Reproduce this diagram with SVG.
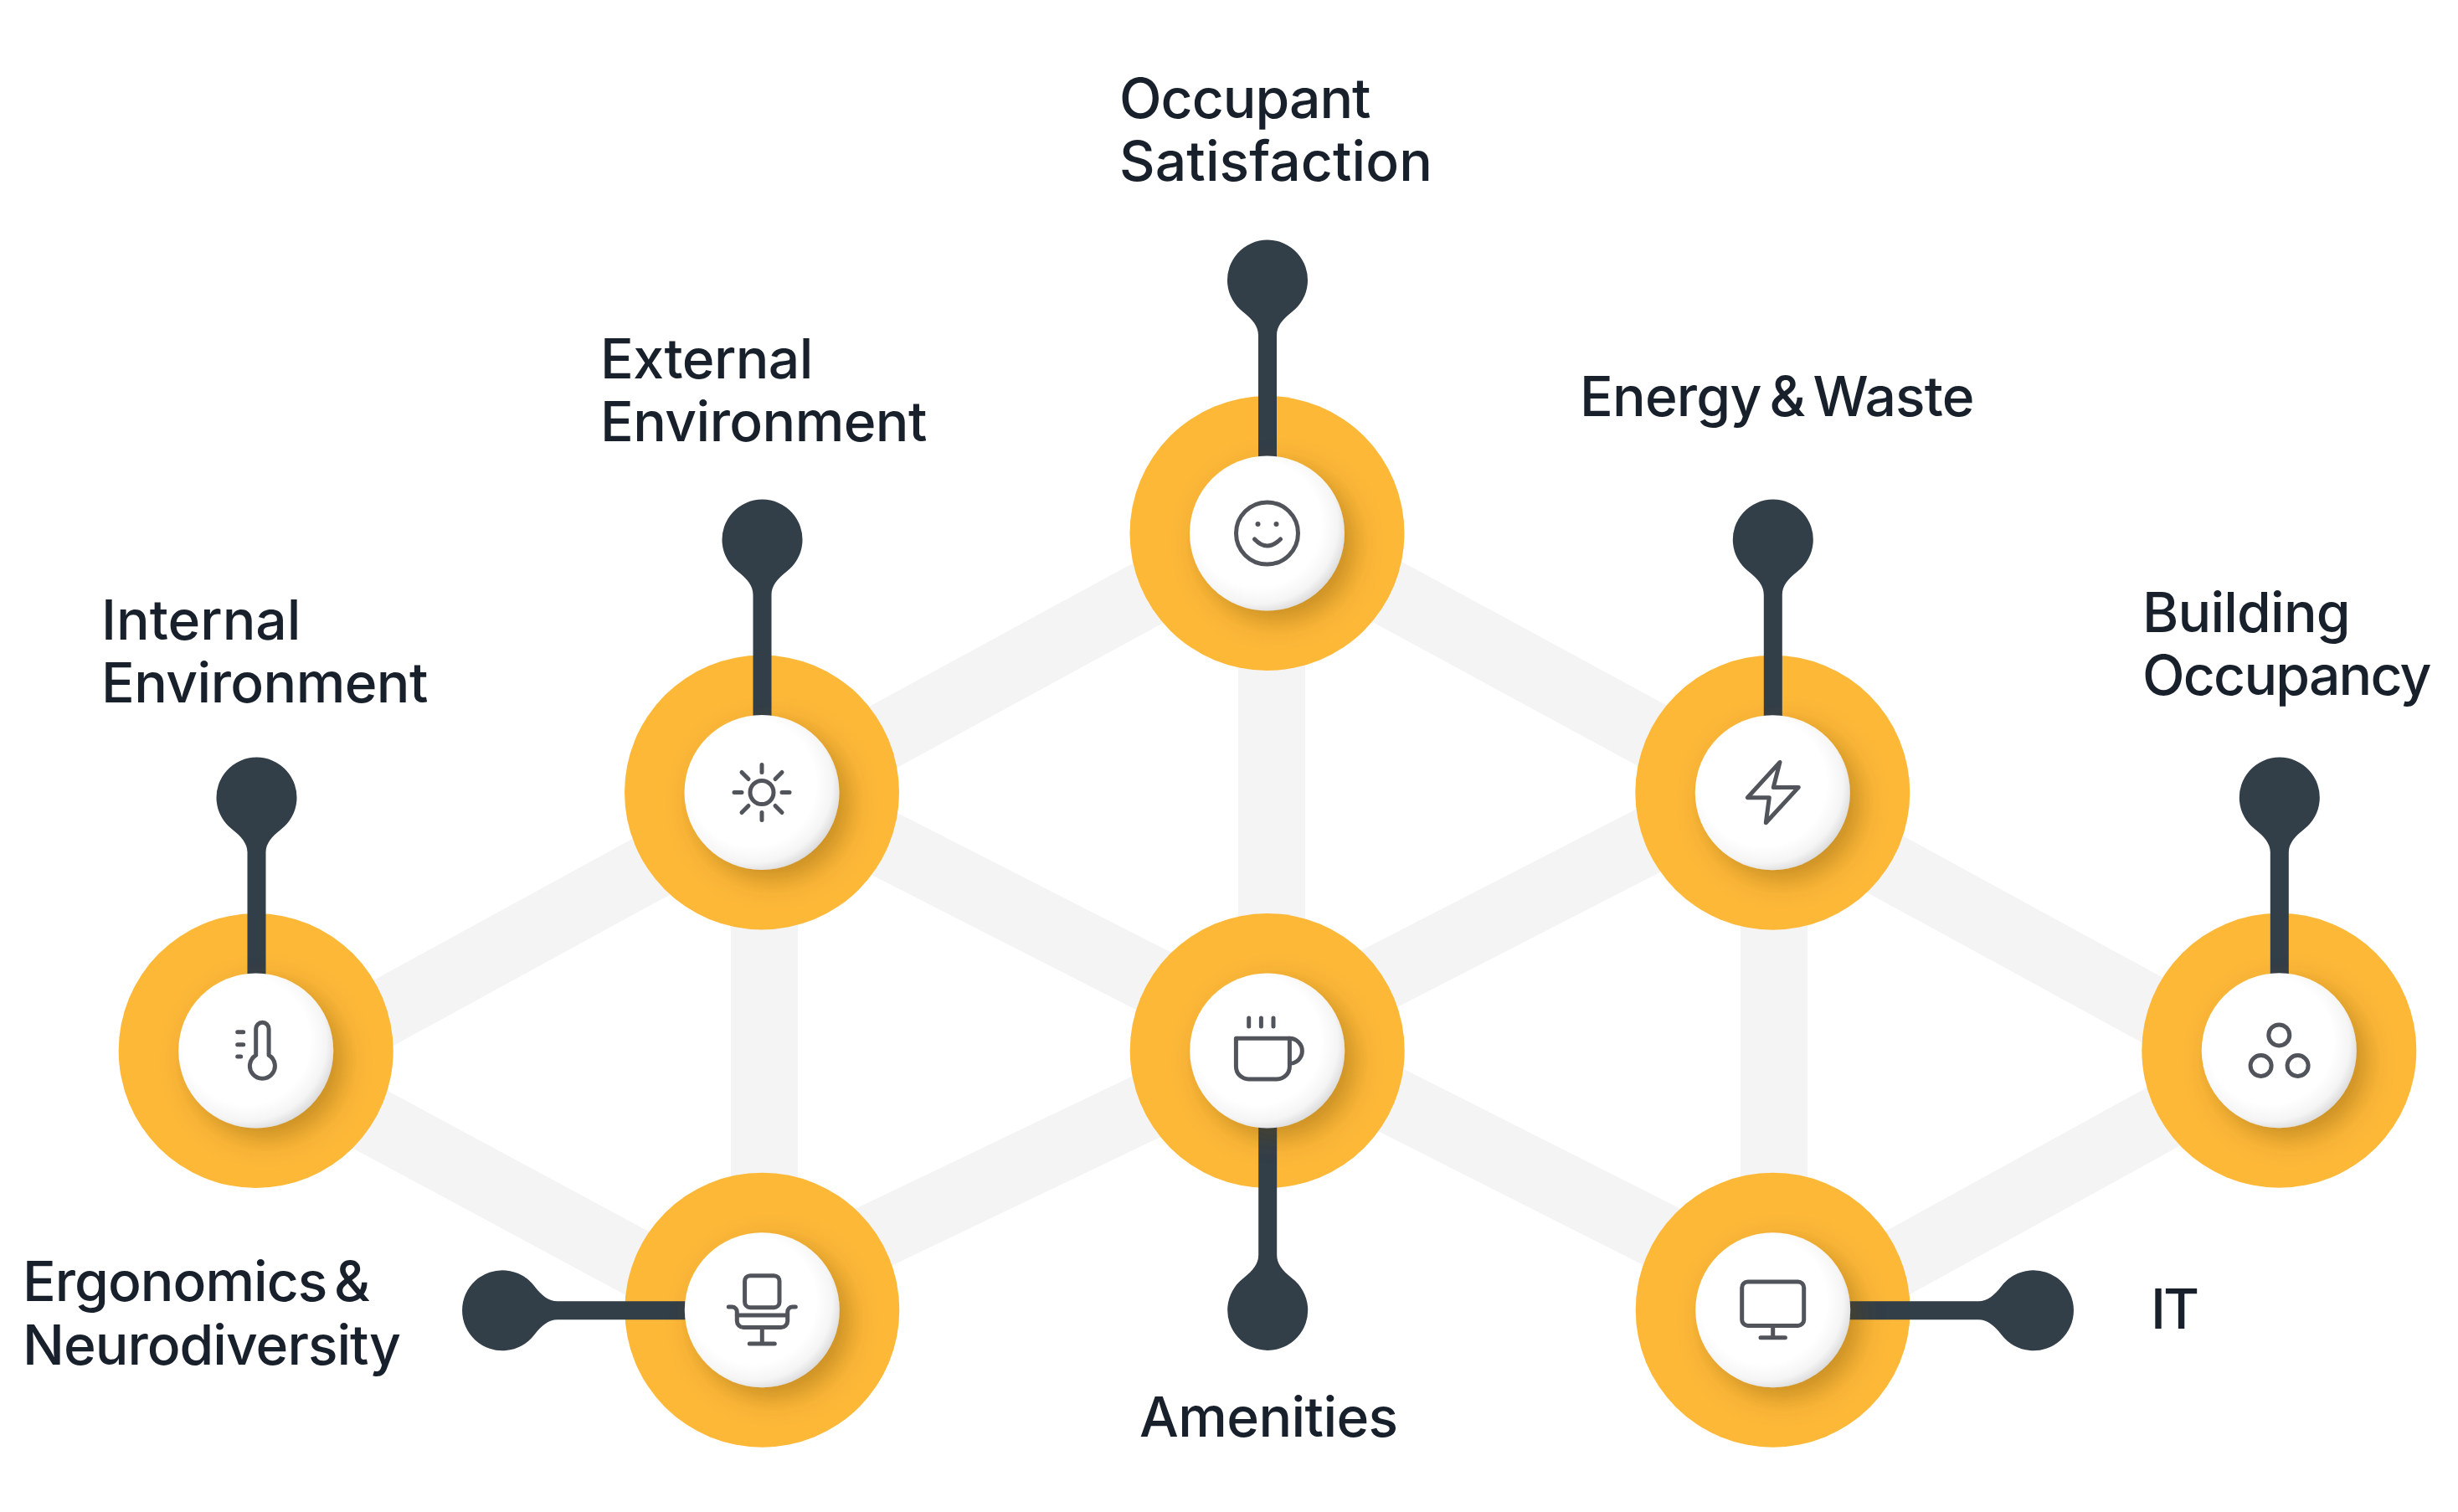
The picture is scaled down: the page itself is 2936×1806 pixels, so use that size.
<svg xmlns="http://www.w3.org/2000/svg" width="2936" height="1806" viewBox="0 0 2936 1806">
<style>
.band{stroke:#f4f4f4;stroke-width:80;fill:none}
.ring{fill:#fdb838}
.pin{fill:#323e48}
.disc{fill:url(#discFill);filter:url(#discShadow)}
.ico{fill:none;stroke:#52545c;stroke-width:5;stroke-linecap:round;stroke-linejoin:round}
.dot{fill:#52545c}
text{font-family:"Inter","Liberation Sans",sans-serif;font-size:66px;font-weight:500;letter-spacing:-0.6px;fill:#18202b}
</style>
<defs>
<radialGradient id="discFill" cx="0.44" cy="0.44" r="0.6">
<stop offset="0" stop-color="#ffffff"/>
<stop offset="0.68" stop-color="#ffffff"/>
<stop offset="0.86" stop-color="#f5f5f5"/>
<stop offset="1" stop-color="#d6d6d6"/>
</radialGradient>
<filter id="discShadow" x="-40%" y="-40%" width="190%" height="190%">
<feDropShadow dx="12" dy="12" stdDeviation="16" flood-color="#6b4a10" flood-opacity="0.38"/>
</filter>
<path id="pinShape" d="M-11 66C-11 55-18 47-29 38.3A48 48 0 1 1 29 38.3C18 47 11 55 11 66V230H-11Z"/>
</defs>
<g id="connectors">
<line class="band" x1="306" y1="1293" x2="910" y2="963"/>
<line class="band" x1="306" y1="1264" x2="910" y2="1589"/>
<line class="band" x1="910" y1="959" x2="1513" y2="631.5"/>
<line class="band" x1="910" y1="933.5" x2="1513" y2="1240.5"/>
<line class="band" x1="910" y1="1541.6" x2="1513" y2="1253"/>
<line class="band" x1="1513" y1="628.8" x2="2117" y2="956.6"/>
<line class="band" x1="1513" y1="1238" x2="2117" y2="928"/>
<line class="band" x1="1513" y1="1239" x2="2117" y2="1544"/>
<line class="band" x1="2117" y1="958.8" x2="2722" y2="1289"/>
<line class="band" x1="2117" y1="1590.7" x2="2722" y2="1258"/>
<line class="band" x1="913" y1="945" x2="913" y2="1564"/>
<line class="band" x1="1519" y1="636" x2="1519" y2="1254"/>
<line class="band" x1="2119" y1="945" x2="2119" y2="1564"/>
</g>
<g id="node-internal-environment">
<circle class="ring" cx="305.7" cy="1255" r="164"/>
<use href="#pinShape" class="pin" transform="translate(306.5 952.5)"/>
<circle class="disc" cx="305.7" cy="1255" r="92.5"/>
<g class="ico" transform="translate(305.7 1255)">
<path d="M0 5.4V-26a7.7 7.7 0 0 1 15.4 0V5.4A15 15 0 1 1 0 5.4Z"/>
<path d="M-22-22.3H-15M-22-7.3H-15M-22 7H-18"/>
</g>
<text x="121" y="763.5" style="letter-spacing:0">Internal</text>
<text x="121" y="839">Environment</text>
</g>
<g id="node-external-environment">
<circle class="ring" cx="910" cy="946.5" r="164"/>
<use href="#pinShape" class="pin" transform="translate(910.5 644.5)"/>
<circle class="disc" cx="910" cy="946.5" r="92.5"/>
<g class="ico" transform="translate(910 946.5)">
<circle r="14"/>
<path d="M0-33V-24M0 33V24M-33 0H-24M33 0H24M-24-24L-16-16M24-24L16-16M-24 24L-16 16M24 24L16 16"/>
</g>
<text x="717" y="451.5">External</text>
<text x="717" y="527">Environment</text>
</g>
<g id="node-occupant-satisfaction">
<circle class="ring" cx="1513.5" cy="637" r="164"/>
<use href="#pinShape" class="pin" transform="translate(1514 334.5)"/>
<circle class="disc" cx="1513.5" cy="637" r="92.5"/>
<g transform="translate(1513.5 637)">
<circle class="ico" r="37"/>
<circle class="dot" cx="-11" cy="-11" r="3"/>
<circle class="dot" cx="11" cy="-11" r="3"/>
<path class="ico" d="M-15 7Q0 23 16 7"/>
</g>
<text x="1337" y="141" style="letter-spacing:-1px">Occupant</text>
<text x="1337" y="216" style="letter-spacing:0.1px">Satisfaction</text>
</g>
<g id="node-energy-waste">
<circle class="ring" cx="2117.3" cy="946.7" r="164"/>
<use href="#pinShape" class="pin" transform="translate(2117.8 644.5)"/>
<circle class="disc" cx="2117.3" cy="946.7" r="92.5"/>
<path class="ico" transform="translate(2117.3 946.7)" d="M8.7-36.3L-30 6H-4L-8 36L31-6.3H1Z"/>
<text x="1887" y="497" style="word-spacing:-7px;letter-spacing:-0.8px">Energy &amp; Waste</text>
</g>
<g id="node-building-occupancy">
<circle class="ring" cx="2722.3" cy="1254.7" r="164"/>
<use href="#pinShape" class="pin" transform="translate(2722.8 952.5)"/>
<circle class="disc" cx="2722.3" cy="1254.7" r="92.5"/>
<g class="ico" transform="translate(2722.3 1254.7)">
<circle cy="-18.3" r="12.5"/>
<circle cx="-21.7" cy="18.3" r="12.5"/>
<circle cx="22.3" cy="18.3" r="12.5"/>
</g>
<text x="2559" y="755" style="letter-spacing:-0.8px">Building</text>
<text x="2559" y="830" style="letter-spacing:-1.8px">Occupancy</text>
</g>
<g id="node-amenities">
<circle class="ring" cx="1513.7" cy="1255" r="164"/>
<use href="#pinShape" class="pin" transform="translate(1514.2 1565) rotate(180)"/>
<circle class="disc" cx="1513.7" cy="1255" r="92.5"/>
<g class="ico" transform="translate(1513.7 1255)">
<path d="M-37.3-14.7H26.7V19A15 15 0 0 1 11.7 34H-22.3A15 15 0 0 1-37.3 19Z"/>
<path d="M26.7-14.7A15 15 0 0 1 26.7 15.3"/>
<path d="M-22-39V-29M-7.3-39V-29M7.3-39V-29"/>
</g>
<text x="1361" y="1716">Amenities</text>
</g>
<g id="node-ergonomics-neurodiversity">
<circle class="ring" cx="910.3" cy="1564.7" r="164"/>
<use href="#pinShape" class="pin" transform="translate(600 1565.2) rotate(-90)"/>
<circle class="disc" cx="910.3" cy="1564.7" r="92.5"/>
<g class="ico" transform="translate(910.3 1564.7)">
<rect x="-20.7" y="-41" width="41.4" height="38" rx="6.5"/>
<path d="M-40-3.7H-36a6 6 0 0 1 6 6V13a7.7 7.7 0 0 0 7.7 7.7H22.7a7.7 7.7 0 0 0 7.7-7.7V2.3a6 6 0 0 1 6-6H40"/>
<path d="M-30 6.3H30M0 20.7V40.3M-15 40.3H15"/>
</g>
<text x="27" y="1554" style="word-spacing:-8px;letter-spacing:-1px">Ergonomics &amp;</text>
<text x="27" y="1629.5" style="letter-spacing:-1px">Neurodiversity</text>
</g>
<g id="node-it">
<circle class="ring" cx="2117.7" cy="1564.7" r="164"/>
<use href="#pinShape" class="pin" transform="translate(2429 1565.2) rotate(90)"/>
<circle class="disc" cx="2117.7" cy="1564.7" r="92.5"/>
<g class="ico" transform="translate(2117.7 1564.7)">
<rect x="-37" y="-33.7" width="74" height="52.4" rx="7"/>
<path d="M0 18.7V33M-14.7 33H14.7"/>
</g>
<text x="2569" y="1587" style="letter-spacing:-3px">IT</text>
</g>
</svg>
